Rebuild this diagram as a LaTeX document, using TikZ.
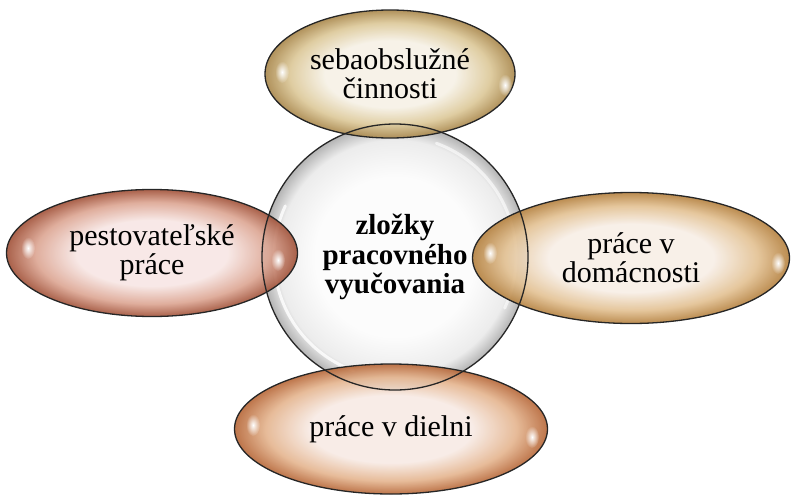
\documentclass[tikz,border=0pt]{standalone}
\usepackage{fontspec}
\setmainfont{Liberation Serif}
\newfontfamily\tnr{Liberation Serif}
\usetikzlibrary{shapes.geometric,fadings}
\tikzfading[name=softspot, inner color=transparent!0, outer color=transparent!100]
\definecolor{cin}{RGB}{252,252,252}
\definecolor{cmid}{RGB}{236,236,236}
\definecolor{cedge}{RGB}{180,180,180}
\definecolor{tin}{RGB}{246,241,230}
\definecolor{tmid}{RGB}{220,200,152}
\definecolor{tedge}{RGB}{168,134,74}
\definecolor{lin}{RGB}{247,230,228}
\definecolor{lmid}{RGB}{220,165,146}
\definecolor{ledge}{RGB}{160,80,55}
\definecolor{rin}{RGB}{247,238,230}
\definecolor{rmid}{RGB}{226,192,145}
\definecolor{redge}{RGB}{180,128,62}
\definecolor{bin}{RGB}{247,234,228}
\definecolor{bmid}{RGB}{228,180,142}
\definecolor{bedge}{RGB}{182,102,55}
\pgfdeclareradialshading{cshade}{\pgfpoint{0bp}{0bp}}{color(0bp)=(cin); color(15bp)=(cin); color(22bp)=(cmid); color(25bp)=(cedge); color(50bp)=(cedge)}
\pgfdeclareradialshading{tshade}{\pgfpoint{0bp}{0bp}}{color(0bp)=(tin); color(13bp)=(tin); color(20bp)=(tmid); color(25bp)=(tedge); color(50bp)=(tedge)}
\pgfdeclareradialshading{lshade}{\pgfpoint{0bp}{0bp}}{color(0bp)=(lin); color(13bp)=(lin); color(20bp)=(lmid); color(25bp)=(ledge); color(50bp)=(ledge)}
\pgfdeclareradialshading{rshade}{\pgfpoint{0bp}{0bp}}{color(0bp)=(rin); color(13bp)=(rin); color(20bp)=(rmid); color(25bp)=(redge); color(50bp)=(redge)}
\pgfdeclareradialshading{bshade}{\pgfpoint{0bp}{0bp}}{color(0bp)=(bin); color(13bp)=(bin); color(20bp)=(bmid); color(25bp)=(bedge); color(50bp)=(bedge)}
\begin{document}
\begin{tikzpicture}[x=1pt,y=-1pt,
  blob/.style={ellipse, inner sep=0pt, shade, fill opacity=0.9, text opacity=1,
    align=center, font=\tnr\fontsize{30}{29}\selectfont},
  rim/.style={draw=black!85, line width=1.3pt},
  spot/.style={white, path fading=softspot}]
\useasboundingbox (0,0) rectangle (791,495);
% central circle
\node[circle, inner sep=0pt, minimum size=266pt, shade, shading=cshade,
  align=center, font=\tnr\bfseries\fontsize{29}{29.5}\selectfont] (c) at (395,257)
  {zložky\\pracovného\\vyučovania};
\draw[white, line width=3pt, opacity=0.8, line cap=round] (c.center) ++(110:121) arc[start angle=110, end angle=205, radius=121];
\draw[white, line width=3pt, opacity=0.6, line cap=round] (c.center) ++(-70:121) arc[start angle=-70, end angle=25, radius=121];
% satellites
\node[blob, shading=tshade, minimum width=250pt, minimum height=128pt] (t) at (390,74) {sebaobslužné\\činnosti};
\node[blob, shading=lshade, minimum width=291pt, minimum height=127pt] (l) at (152,253) {pestovateľské\\práce};
\node[blob, shading=rshade, minimum width=317pt, minimum height=131pt] (r) at (631,258) {práce v\\domácnosti};
\node[blob, shading=bshade, minimum width=313pt, minimum height=130pt] (b) at (391,429) {práce v dielni};
% outlines
\draw[rim] (c.center) circle[radius=133];
\draw[rim] (t.center) ellipse[x radius=125, y radius=64];
\draw[rim] (l.center) ellipse[x radius=145.5, y radius=63.5];
\draw[rim] (r.center) ellipse[x radius=158.5, y radius=65.5];
\draw[rim] (b.center) ellipse[x radius=156.5, y radius=65];
% glossy highlights
\fill[spot] (282,72) ellipse[x radius=7, y radius=11];
\fill[spot] (505,85) ellipse[x radius=7, y radius=11];
\fill[spot] (28,248) ellipse[x radius=7, y radius=11];
\fill[spot] (278,260) ellipse[x radius=7, y radius=11];
\fill[spot] (490,253) ellipse[x radius=7, y radius=11];
\fill[spot] (778,263) ellipse[x radius=7, y radius=11];
\fill[spot] (253,425) ellipse[x radius=7, y radius=11];
\fill[spot] (532,437) ellipse[x radius=7, y radius=11];
\end{tikzpicture}
\end{document}
